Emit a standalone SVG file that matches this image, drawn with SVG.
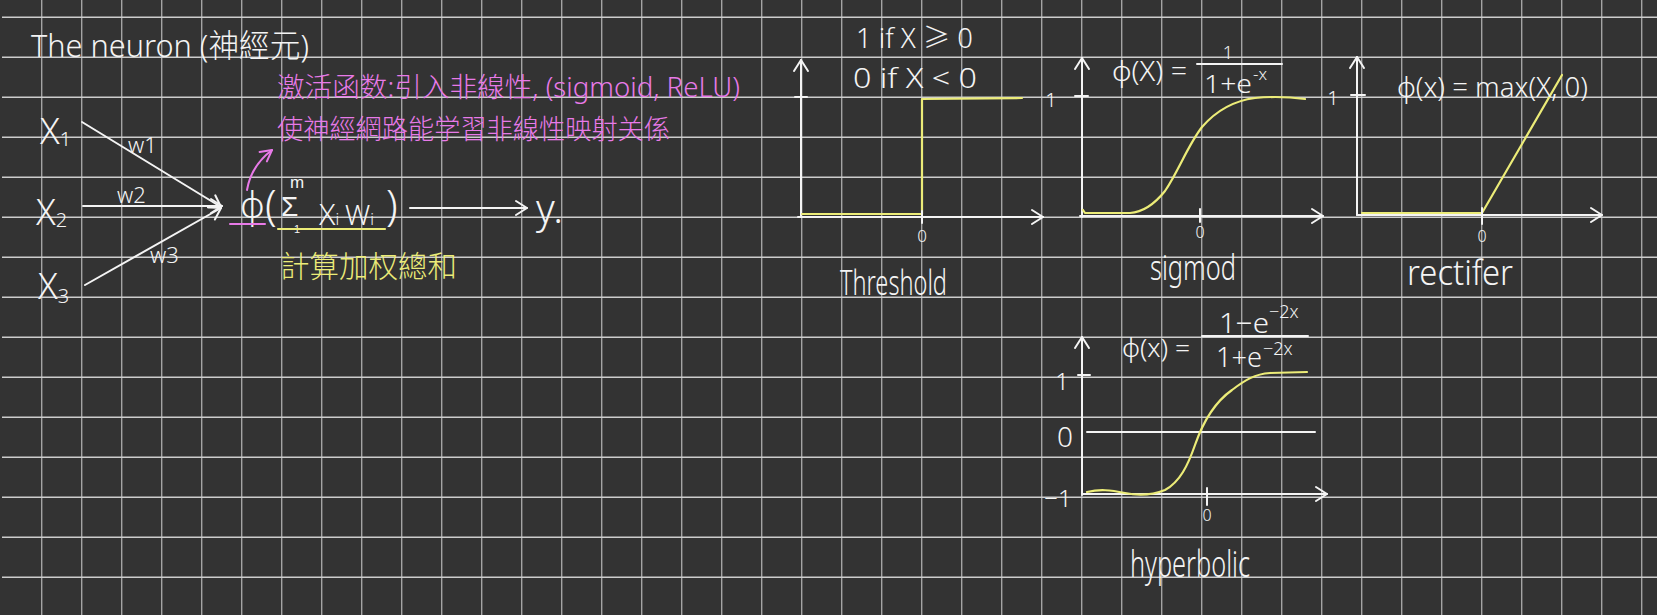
<svg xmlns="http://www.w3.org/2000/svg" width="1657" height="615" viewBox="0 0 1657 615">
<defs>
<style>
.bg{fill:#333333}
.gh{stroke:#cdcdcd;stroke-width:1.4;fill:none}
.gv{stroke:#a4a4a4;stroke-width:1.4;fill:none}
.w{stroke:#f4f4f4;stroke-width:2;fill:none;stroke-linecap:round;stroke-linejoin:round}
.y{stroke:#ecec78;stroke-width:2.2;fill:none;stroke-linecap:round;stroke-linejoin:round}
.p{stroke:#e87ae8;stroke-width:2;fill:none;stroke-linecap:round;stroke-linejoin:round}
text{font-family:"Noto Sans","Noto Sans CJK SC",sans-serif;font-weight:300}
.lib{font-family:"Liberation Sans",sans-serif}
.tw{fill:#f4f4f4}
.ty{fill:#ecec78}
.tp{fill:#e87ae8}
</style>
<marker id="ah" viewBox="0 0 12 16" refX="11" refY="8" markerWidth="12" markerHeight="16" markerUnits="userSpaceOnUse" orient="auto" overflow="visible">
<path d="M0,1 L11,8 L0,15" fill="none" stroke="#f4f4f4" stroke-width="2" stroke-linecap="round" stroke-linejoin="round"/>
</marker>
<marker id="ahp" viewBox="0 0 12 14" refX="11" refY="7" markerWidth="12" markerHeight="14" markerUnits="userSpaceOnUse" orient="auto" overflow="visible">
<path d="M0,1 L11,7 L0,13" fill="none" stroke="#e87ae8" stroke-width="2" stroke-linecap="round" stroke-linejoin="round"/>
</marker>
</defs>

<rect class="bg" x="0" y="0" width="1657" height="615"/>

<g id="grid">
<path class="gv" d="M41.7,0V615M81.7,0V615M121.7,0V615M161.7,0V615M201.7,0V615M241.7,0V615M281.7,0V615M321.7,0V615M361.7,0V615M401.7,0V615M441.7,0V615M481.7,0V615M521.7,0V615M561.7,0V615M601.7,0V615M641.7,0V615M681.7,0V615M721.7,0V615M761.7,0V615M801.7,0V615M841.7,0V615M881.7,0V615M921.7,0V615M961.7,0V615M1001.7,0V615M1041.7,0V615M1081.7,0V615M1121.7,0V615M1161.7,0V615M1201.7,0V615M1241.7,0V615M1281.7,0V615M1321.7,0V615M1361.7,0V615M1401.7,0V615M1441.7,0V615M1481.7,0V615M1521.7,0V615M1561.7,0V615M1601.7,0V615M1641.7,0V615"/>
<path class="gh" d="M2,17.3H1657M2,57.3H1657M2,97.3H1657M2,137.3H1657M2,177.3H1657M2,217.3H1657M2,257.3H1657M2,297.3H1657M2,337.3H1657M2,377.3H1657M2,417.3H1657M2,457.3H1657M2,497.3H1657M2,537.3H1657M2,577.3H1657"/>
</g>

<g id="title">
<text class="tw" x="31" y="57" font-size="32" textLength="278" lengthAdjust="spacingAndGlyphs">The neuron (神經元)</text>
</g>

<g id="input-x1"><text class="tw" x="40" y="144" font-size="36">X<tspan font-size="20" dy="2">1</tspan></text></g>
<g id="input-x2"><text class="tw" x="36" y="225" font-size="36">X<tspan font-size="20" dy="2">2</tspan></text></g>
<g id="input-x3"><text class="tw" x="38" y="299" font-size="36">X<tspan font-size="20" dy="4">3</tspan></text></g>

<g id="weights">
<text class="tw" x="128" y="153" font-size="22">w1</text>
<text class="tw" x="117" y="203" font-size="22">w2</text>
<text class="tw" x="150" y="263" font-size="22">w3</text>
</g>

<g id="connectors">
<line class="w" x1="82" y1="122" x2="221" y2="207" marker-end="url(#ah)"/>
<line class="w" x1="83" y1="206" x2="222" y2="206" marker-end="url(#ah)"/>
<line class="w" x1="85" y1="285" x2="221" y2="208" marker-end="url(#ah)"/>
<line class="w" x1="410" y1="208" x2="527" y2="208" marker-end="url(#ah)"/>
<path class="p" d="M247,190 Q251,166 272,150" marker-end="url(#ahp)"/>
</g>

<g id="neuron">
<text class="tw" x="240" y="218" font-size="36">ϕ<tspan x="265" y="220" font-size="42">(</tspan><tspan class="lib" x="290" y="188" font-size="17">m</tspan><tspan class="lib" x="281" y="216" font-size="28">Σ</tspan><tspan class="lib" x="294" y="233" font-size="11">1</tspan><tspan x="319" y="225" font-size="30">X</tspan><tspan font-size="16">i</tspan><tspan x="345" y="225" font-size="28">W</tspan><tspan font-size="16">i</tspan><tspan x="386" y="220" font-size="42">)</tspan></text>
<line class="p" x1="230" y1="224" x2="265" y2="224"/>
<line class="y" x1="278" y1="229" x2="385" y2="229"/>
</g>

<g id="output-y"><text class="tw" x="536" y="223" font-size="40">y.</text></g>

<g id="note-activation">
<text class="tp" x="277" y="97" font-size="27" textLength="463" lengthAdjust="spacingAndGlyphs">激活函数:引入非線性, (sigmoid, ReLU)</text>
<text class="tp" x="277" y="139" font-size="27" textLength="393" lengthAdjust="spacingAndGlyphs">使神經網路能学習非線性映射关係</text>
</g>

<g id="note-sum">
<text class="ty" x="280" y="277" font-size="30" textLength="177" lengthAdjust="spacingAndGlyphs">計算加权總和</text>
</g>

<g id="graph-threshold">
<line class="w" x1="801" y1="217" x2="801" y2="60" marker-end="url(#ah)"/>
<line class="w" x1="795" y1="97" x2="807" y2="97"/>
<line class="w" x1="798" y1="217" x2="1043" y2="217" marker-end="url(#ah)"/>
<polyline class="y" points="802,214 922,214 922,99 1022,98"/>
<line class="w" x1="922" y1="211" x2="922" y2="223"/>
<text class="tw" x="922" y="242" font-size="17" text-anchor="middle">0</text>
<text class="tw" x="856" y="48" font-size="28" textLength="117" lengthAdjust="spacingAndGlyphs">1 if X ≥ 0</text>
<text class="tw" x="853" y="88" font-size="28" textLength="124" lengthAdjust="spacingAndGlyphs">0 if X &lt; 0</text>
<text class="tw" x="840" y="295" font-size="34" textLength="107" lengthAdjust="spacingAndGlyphs">Threshold</text>
</g>

<g id="graph-sigmoid">
<line class="w" x1="1082" y1="217" x2="1082" y2="58" marker-end="url(#ah)"/>
<line class="w" x1="1075" y1="96" x2="1088" y2="96"/>
<line class="w" x1="1080" y1="216" x2="1323" y2="216" marker-end="url(#ah)"/>
<path class="y" d="M1083,210 L1085,213 L1130,213 C1145,212 1157,201 1165,191 C1178,172 1188,145 1202,127 C1215,112 1232,101 1255,98 C1275,96 1290,97 1305,99"/>
<line class="w" x1="1200" y1="209" x2="1200" y2="222"/>
<text class="tw" x="1200" y="238" font-size="16" text-anchor="middle">0</text>
<text class="tw" x="1051" y="107" font-size="20" text-anchor="middle">1</text>
<text class="tw" x="1112" y="81" font-size="28" textLength="75" lengthAdjust="spacingAndGlyphs">ϕ(X) =</text>
<line class="w" x1="1197" y1="64" x2="1282" y2="64"/>
<text class="tw" x="1228" y="59" font-size="18" text-anchor="middle">1</text>
<text class="tw" x="1204" y="93" font-size="26" textLength="48" lengthAdjust="spacingAndGlyphs">1+e</text>
<text class="tw" x="1253" y="80" font-size="17">-x</text>
<text class="tw" x="1150" y="280" font-size="34" textLength="86" lengthAdjust="spacingAndGlyphs">sigmod</text>
</g>

<g id="graph-relu">
<line class="w" x1="1357" y1="215" x2="1357" y2="57" marker-end="url(#ah)"/>
<line class="w" x1="1351" y1="95" x2="1365" y2="95"/>
<line class="w" x1="1357" y1="215" x2="1602" y2="215" marker-end="url(#ah)"/>
<polyline class="y" points="1362,213 1482,213 1562,75"/>
<line class="w" x1="1482" y1="208" x2="1482" y2="224"/>
<text class="tw" x="1482" y="242" font-size="16" text-anchor="middle">0</text>
<text class="tw" x="1333" y="105" font-size="20" text-anchor="middle">1</text>
<text class="tw" x="1397" y="97" font-size="28" textLength="191" lengthAdjust="spacingAndGlyphs">ϕ(x) = max(X, 0)</text>
<text class="tw" x="1407" y="285" font-size="34" textLength="106" lengthAdjust="spacingAndGlyphs">rectifer</text>
</g>

<g id="graph-hyperbolic">
<line class="w" x1="1082" y1="495" x2="1082" y2="337" marker-end="url(#ah)"/>
<line class="w" x1="1078" y1="375" x2="1090" y2="375"/>
<line class="w" x1="1087" y1="432" x2="1315" y2="432"/>
<line class="w" x1="1082" y1="494" x2="1327" y2="494" marker-end="url(#ah)"/>
<path class="y" d="M1087,492 C1100,489 1110,490 1125,493 C1140,496 1155,494 1165,490 C1180,482 1188,465 1195,445 C1203,422 1215,402 1232,390 C1245,380 1255,374 1270,373 L1307,372"/>
<line class="w" x1="1207" y1="488" x2="1207" y2="505"/>
<text class="tw" x="1207" y="521" font-size="16" text-anchor="middle">0</text>
<text class="tw" x="1062" y="390" font-size="24" text-anchor="middle">1</text>
<text class="tw" x="1065" y="447" font-size="28" text-anchor="middle">0</text>
<text class="tw" x="1058" y="507" font-size="24" text-anchor="middle">−1</text>
<text class="tw" x="1122" y="357" font-size="26" textLength="68" lengthAdjust="spacingAndGlyphs">ϕ(x) =</text>
<line class="w" x1="1202" y1="336" x2="1308" y2="336"/>
<text class="tw" x="1219" y="333" font-size="28" textLength="50" lengthAdjust="spacingAndGlyphs">1−e</text>
<text class="tw" x="1269" y="318" font-size="18">−2x</text>
<text class="tw" x="1216" y="367" font-size="28" textLength="46" lengthAdjust="spacingAndGlyphs">1+e</text>
<text class="tw" x="1263" y="355" font-size="18">−2x</text>
<text class="tw" x="1130" y="577" font-size="36" textLength="120" lengthAdjust="spacingAndGlyphs">hyperbolic</text>
</g>
</svg>
